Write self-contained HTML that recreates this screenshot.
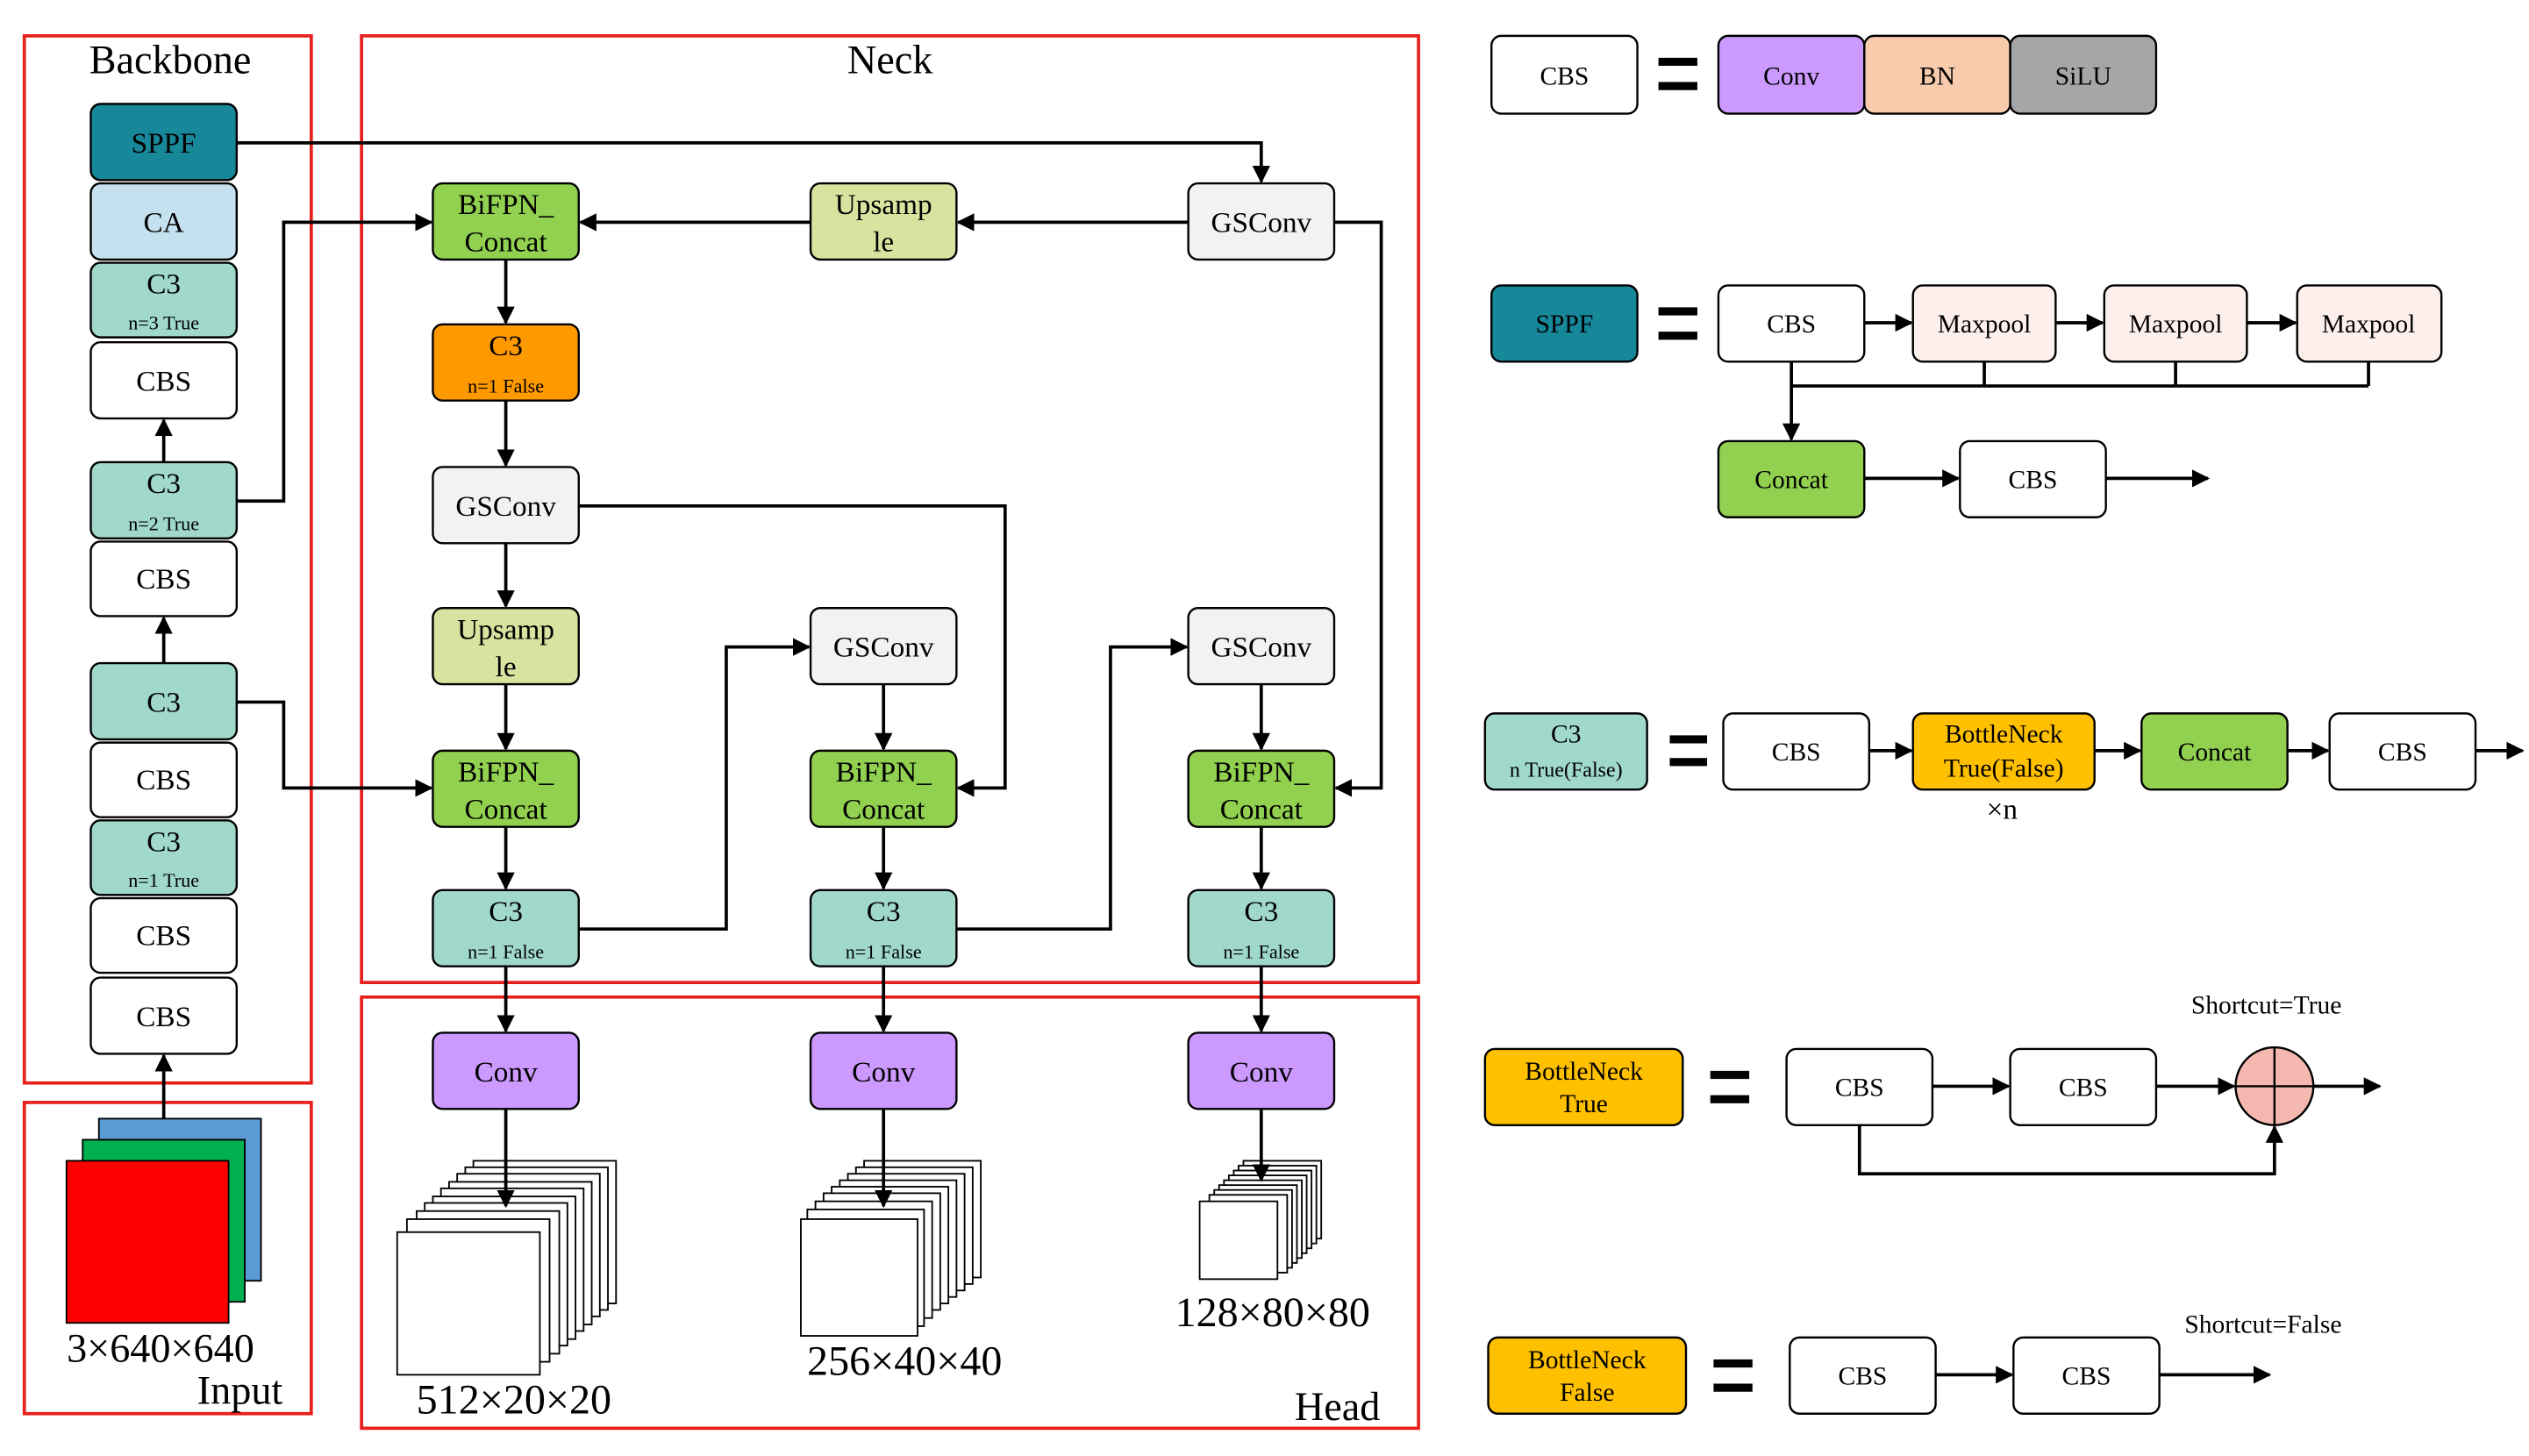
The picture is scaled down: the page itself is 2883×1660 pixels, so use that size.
<!DOCTYPE html>
<html><head><meta charset="utf-8"><style>
html,body{margin:0;padding:0;background:#fff;}
svg{display:block;}
text{font-family:"Liberation Serif",serif;fill:#000;}
.n{stroke:#000;stroke-width:1.3;}
.l{stroke:#000;stroke-width:2;fill:none;}
.r{stroke:#e8201c;stroke-width:2;fill:none;}
</style></head><body>
<svg width="2883" height="1660" viewBox="0 0 1560 898" xmlns="http://www.w3.org/2000/svg">
<defs><marker id="a" viewBox="0 0 10 10" refX="9" refY="5" markerWidth="5.5" markerHeight="5.5" orient="auto"><path d="M0,0L10,5L0,10z" fill="#000"/></marker></defs>
<rect width="1560" height="898" fill="#fff"/>
<!-- section boxes -->
<rect class="r" x="15" y="22" width="177" height="646"/>
<rect class="r" x="15" y="680" width="177" height="192"/>
<rect class="r" x="223" y="22" width="652" height="584"/>
<rect class="r" x="223" y="615" width="652" height="266"/>
<text x="105" y="45" font-size="25" text-anchor="middle">Backbone</text>
<text x="549" y="45" font-size="25" text-anchor="middle">Neck</text>
<text x="825" y="876" font-size="25" text-anchor="middle">Head</text>
<text x="148" y="866" font-size="25" text-anchor="middle">Input</text>
<text x="99" y="840" font-size="25" text-anchor="middle">3×640×640</text>

<!-- connectors -->
<g class="l" marker-end="url(#a)">
<path d="M145,88H778V112"/>
<path d="M733,137H591"/>
<path d="M500,137H358"/>
<path d="M145,309H175V137H266"/>
<path d="M312,160V199"/>
<path d="M312,247V287"/>
<path d="M312,335V374"/>
<path d="M312,422V462"/>
<path d="M312,510V548"/>
<path d="M145,433H175V486H266"/>
<path d="M357,312H620V486H591"/>
<path d="M357,573H448V399H499"/>
<path d="M545,422V462"/>
<path d="M545,510V548"/>
<path d="M590,573H685V399H732"/>
<path d="M778,422V462"/>
<path d="M778,510V548"/>
<path d="M823,137H852V486H824"/>
<path d="M312,596V636"/>
<path d="M545,596V636"/>
<path d="M778,596V636"/>
<path d="M101,285V259"/>
<path d="M101,409V381"/>
<path d="M101,690V651"/>
</g>

<!-- input squares -->
<rect x="61" y="690" width="100" height="100" fill="#5b9bd5" stroke="#000"/>
<rect x="51" y="703" width="100" height="100" fill="#00b050" stroke="#000"/>
<rect x="41" y="716" width="100" height="100" fill="#ff0000" stroke="#000"/>

<!-- feature map stacks -->
<g fill="#fff" stroke="#000" stroke-width="1">
<rect x="292" y="716" width="88" height="88"/><rect x="287" y="720" width="88" height="88"/><rect x="282" y="724" width="88" height="88"/><rect x="277" y="729" width="88" height="88"/><rect x="272" y="733" width="88" height="88"/><rect x="267" y="738" width="88" height="88"/><rect x="262" y="742" width="88" height="88"/><rect x="257" y="747" width="88" height="88"/><rect x="251" y="752" width="88" height="88"/><rect x="245" y="760" width="88" height="88"/>
<rect x="533" y="716" width="72" height="72"/><rect x="528" y="720" width="72" height="72"/><rect x="523" y="724" width="72" height="72"/><rect x="518" y="728" width="72" height="72"/><rect x="513" y="732" width="72" height="72"/><rect x="508" y="736" width="72" height="72"/><rect x="503" y="741" width="72" height="72"/><rect x="498" y="746" width="72" height="72"/><rect x="494" y="752" width="72" height="72"/>
<rect x="767" y="716" width="48" height="48"/><rect x="764" y="719" width="48" height="48"/><rect x="761" y="722" width="48" height="48"/><rect x="758" y="725" width="48" height="48"/><rect x="755" y="728" width="48" height="48"/><rect x="752" y="731" width="48" height="48"/><rect x="749" y="734" width="48" height="48"/><rect x="746" y="737" width="48" height="48"/><rect x="740" y="741" width="48" height="48"/>
</g>
<g class="l" marker-end="url(#a)">
<path d="M312,684V744"/><path d="M545,684V744"/><path d="M778,684V728"/>
</g>
<text x="317" y="872" font-size="26" text-anchor="middle">512×20×20</text>
<text x="558" y="848" font-size="26" text-anchor="middle">256×40×40</text>
<text x="785" y="818" font-size="26" text-anchor="middle">128×80×80</text>

<!-- backbone nodes -->
<g class="n">
<rect x="56" y="64" width="90" height="47" rx="6" fill="#17879a"/>
<rect x="56" y="113" width="90" height="47" rx="6" fill="#c5e0ee"/>
<rect x="56" y="162" width="90" height="46" rx="6" fill="#a0d8cc"/>
<rect x="56" y="211" width="90" height="47" rx="6" fill="#fff"/>
<rect x="56" y="285" width="90" height="47" rx="6" fill="#a0d8cc"/>
<rect x="56" y="334" width="90" height="46" rx="6" fill="#fff"/>
<rect x="56" y="409" width="90" height="47" rx="6" fill="#a0d8cc"/>
<rect x="56" y="458" width="90" height="46" rx="6" fill="#fff"/>
<rect x="56" y="506" width="90" height="46" rx="6" fill="#a0d8cc"/>
<rect x="56" y="554" width="90" height="46" rx="6" fill="#fff"/>
<rect x="56" y="603" width="90" height="47" rx="6" fill="#fff"/>
</g>
<g font-size="18" text-anchor="middle">
<text x="101" y="94">SPPF</text>
<text x="101" y="143">CA</text>
<text x="101" y="181">C3</text><text x="101" y="203" font-size="12">n=3 True</text>
<text x="101" y="241">CBS</text>
<text x="101" y="304">C3</text><text x="101" y="327" font-size="12">n=2 True</text>
<text x="101" y="363">CBS</text>
<text x="101" y="439">C3</text>
<text x="101" y="487">CBS</text>
<text x="101" y="525">C3</text><text x="101" y="547" font-size="12">n=1 True</text>
<text x="101" y="583">CBS</text>
<text x="101" y="633">CBS</text>
</g>

<!-- neck nodes -->
<g class="n">
<rect x="267" y="113" width="90" height="47" rx="6" fill="#92d050"/>
<rect x="267" y="200" width="90" height="47" rx="6" fill="#ff9900"/>
<rect x="267" y="288" width="90" height="47" rx="6" fill="#f2f2f2"/>
<rect x="267" y="375" width="90" height="47" rx="6" fill="#d7e4a0"/>
<rect x="267" y="463" width="90" height="47" rx="6" fill="#92d050"/>
<rect x="267" y="549" width="90" height="47" rx="6" fill="#a0d8cc"/>
<rect x="500" y="113" width="90" height="47" rx="6" fill="#d7e4a0"/>
<rect x="500" y="375" width="90" height="47" rx="6" fill="#f2f2f2"/>
<rect x="500" y="463" width="90" height="47" rx="6" fill="#92d050"/>
<rect x="500" y="549" width="90" height="47" rx="6" fill="#a0d8cc"/>
<rect x="733" y="113" width="90" height="47" rx="6" fill="#f2f2f2"/>
<rect x="733" y="375" width="90" height="47" rx="6" fill="#f2f2f2"/>
<rect x="733" y="463" width="90" height="47" rx="6" fill="#92d050"/>
<rect x="733" y="549" width="90" height="47" rx="6" fill="#a0d8cc"/>
<rect x="267" y="637" width="90" height="47" rx="6" fill="#cc99ff"/>
<rect x="500" y="637" width="90" height="47" rx="6" fill="#cc99ff"/>
<rect x="733" y="637" width="90" height="47" rx="6" fill="#cc99ff"/>
</g>
<g font-size="18" text-anchor="middle">
<text x="312" y="132">BiFPN_</text><text x="312" y="155">Concat</text>
<text x="312" y="219">C3</text><text x="312" y="242" font-size="12">n=1 False</text>
<text x="312" y="318">GSConv</text>
<text x="312" y="394">Upsamp</text><text x="312" y="417">le</text>
<text x="312" y="482">BiFPN_</text><text x="312" y="505">Concat</text>
<text x="312" y="568">C3</text><text x="312" y="591" font-size="12">n=1 False</text>
<text x="545" y="132">Upsamp</text><text x="545" y="155">le</text>
<text x="545" y="405">GSConv</text>
<text x="545" y="482">BiFPN_</text><text x="545" y="505">Concat</text>
<text x="545" y="568">C3</text><text x="545" y="591" font-size="12">n=1 False</text>
<text x="778" y="143">GSConv</text>
<text x="778" y="405">GSConv</text>
<text x="778" y="482">BiFPN_</text><text x="778" y="505">Concat</text>
<text x="778" y="568">C3</text><text x="778" y="591" font-size="12">n=1 False</text>
<text x="312" y="667">Conv</text>
<text x="545" y="667">Conv</text>
<text x="778" y="667">Conv</text>
</g>

<!-- legend -->
<g class="n">
<rect x="920" y="22" width="90" height="48" rx="6" fill="#fff"/>
<rect x="1060" y="22" width="90" height="48" rx="6" fill="#cc99ff"/>
<rect x="1150" y="22" width="90" height="48" rx="6" fill="#f8cbad"/>
<rect x="1240" y="22" width="90" height="48" rx="6" fill="#a6a6a6"/>
<rect x="920" y="176" width="90" height="47" rx="6" fill="#17879a"/>
<rect x="1060" y="176" width="90" height="47" rx="6" fill="#fff"/>
<rect x="1180" y="176" width="88" height="47" rx="6" fill="#fdf0ec"/>
<rect x="1298" y="176" width="88" height="47" rx="6" fill="#fdf0ec"/>
<rect x="1417" y="176" width="89" height="47" rx="6" fill="#fdf0ec"/>
<rect x="1060" y="272" width="90" height="47" rx="6" fill="#92d050"/>
<rect x="1209" y="272" width="90" height="47" rx="6" fill="#fff"/>
<rect x="916" y="440" width="100" height="47" rx="6" fill="#a0d8cc"/>
<rect x="1063" y="440" width="90" height="47" rx="6" fill="#fff"/>
<rect x="1180" y="440" width="112" height="47" rx="6" fill="#ffc000"/>
<rect x="1321" y="440" width="90" height="47" rx="6" fill="#92d050"/>
<rect x="1437" y="440" width="90" height="47" rx="6" fill="#fff"/>
<rect x="916" y="647" width="122" height="47" rx="6" fill="#ffc000"/>
<rect x="1102" y="647" width="90" height="47" rx="6" fill="#fff"/>
<rect x="1240" y="647" width="90" height="47" rx="6" fill="#fff"/>
<circle cx="1403" cy="670" r="24" fill="#f4b8b0"/>
<rect x="918" y="825" width="122" height="47" rx="6" fill="#ffc000"/>
<rect x="1104" y="825" width="90" height="47" rx="6" fill="#fff"/>
<rect x="1242" y="825" width="90" height="47" rx="6" fill="#fff"/>
</g>
<path d="M1403,646V694M1379,670H1427" stroke="#000" stroke-width="1.3"/>
<g class="l" marker-end="url(#a)">
<path d="M1150,199H1179"/><path d="M1268,199H1297"/><path d="M1386,199H1416"/>
<path d="M1105,223V271"/>
<path d="M1150,295H1208"/><path d="M1299,295H1362"/>
<path d="M1153,463H1179"/><path d="M1292,463H1320"/><path d="M1411,463H1436"/><path d="M1527,463H1556"/>
<path d="M1192,670H1239"/><path d="M1330,670H1378"/><path d="M1427,670H1468"/>
<path d="M1147,694V724H1403V695"/>
<path d="M1194,848H1241"/><path d="M1332,848H1400"/>
</g>
<path class="l" d="M1224,223V238M1342,223V238M1461,223V238M1105,238H1461"/>
<g stroke="#000" stroke-width="5">
<path d="M1023,38H1047M1023,53H1047"/>
<path d="M1023,192H1047M1023,207H1047"/>
<path d="M1030,456H1053M1030,470H1053"/>
<path d="M1055,663H1079M1055,678H1079"/>
<path d="M1057,841H1081M1057,856H1081"/>
</g>
<g font-size="16" text-anchor="middle">
<text x="965" y="52">CBS</text>
<text x="1105" y="52">Conv</text>
<text x="1195" y="52">BN</text>
<text x="1285" y="52">SiLU</text>
<text x="965" y="205">SPPF</text>
<text x="1105" y="205">CBS</text>
<text x="1224" y="205">Maxpool</text>
<text x="1342" y="205">Maxpool</text>
<text x="1461" y="205">Maxpool</text>
<text x="1105" y="301">Concat</text>
<text x="1254" y="301">CBS</text>
<text x="966" y="458">C3</text><text x="966" y="479" font-size="13">n True(False)</text>
<text x="1108" y="469">CBS</text>
<text x="1236" y="458">BottleNeck</text><text x="1236" y="479">True(False)</text>
<text x="1366" y="469">Concat</text>
<text x="1482" y="469">CBS</text>
<text x="1235" y="505" font-size="18">×n</text>
<text x="977" y="666">BottleNeck</text><text x="977" y="686">True</text>
<text x="1147" y="676">CBS</text>
<text x="1285" y="676">CBS</text>
<text x="1398" y="625">Shortcut=True</text>
<text x="979" y="844">BottleNeck</text><text x="979" y="864">False</text>
<text x="1149" y="854">CBS</text>
<text x="1287" y="854">CBS</text>
<text x="1396" y="822">Shortcut=False</text>
</g>
</svg>
</body></html>
